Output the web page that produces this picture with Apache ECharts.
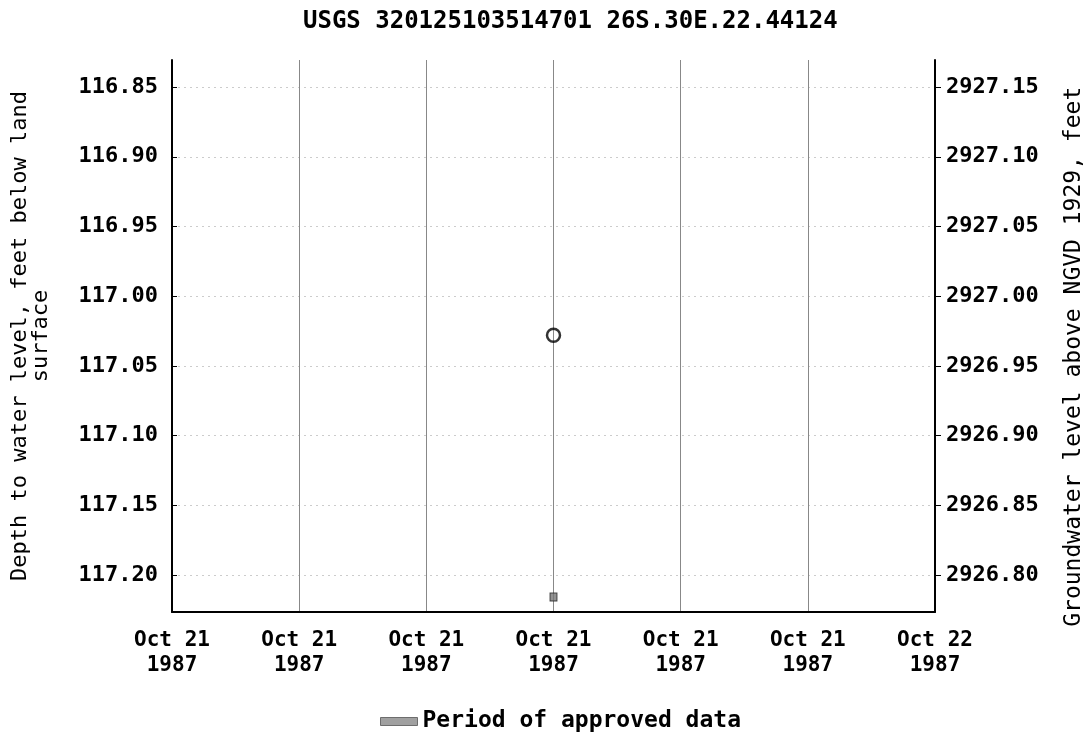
<!DOCTYPE html>
<html><head><meta charset="utf-8">
<script src="https://cdn.jsdelivr.net/npm/echarts@6/dist/echarts.min.js"></script>
<style>html,body{margin:0;padding:0;background:#fff}#c{width:1084px;height:741px}</style>
</head><body><div id="c"></div>
<script>
// Data (x = hours since Oct 21 1987 00:00)
const title = 'USGS 320125103514701 26S.30E.22.44124';
const xTickHours = [0, 4, 8, 12, 16, 20, 24];
const xTickLabels = ['Oct 21\n1987','Oct 21\n1987','Oct 21\n1987','Oct 21\n1987','Oct 21\n1987','Oct 21\n1987','Oct 22\n1987'];
const leftTicks = [116.85, 116.90, 116.95, 117.00, 117.05, 117.10, 117.15, 117.20];
const rightTicks = [2927.15, 2927.10, 2927.05, 2927.00, 2926.95, 2926.90, 2926.85, 2926.80];
const obsHours = [12];
const obsDepth = [117.028];
const approvedHours = [12];
const approvedDepth = [117.2158];
const datum = 3044.0;
const leftMin = 116.8306, leftMax = 117.2265;

const font = 'DejaVu Sans Mono';
const lab = { fontFamily: font, fontSize: 22, fontWeight: 'bold', color: '#000' };
const rightAsDepth = rightTicks.map(r => +(datum - r).toFixed(4));
const chart = echarts.init(document.getElementById('c'));
chart.setOption({
  animation: false,
  title: { text: title, left: 298, top: 5, textStyle: Object.assign({}, lab, { fontSize: 24 }) },
  grid: { left: 172, right: 149, top: 60, bottom: 129, outerBoundsMode: 'none', containLabel: false },
  legend: { top: 705, left: 375, itemWidth: 37, itemHeight: 8, icon: 'rect', itemGap: 8,
    data: [{ name: 'Period of approved data', itemStyle: { color: '#888', borderColor: '#555', borderWidth: 1 } }],
    textStyle: Object.assign({}, lab, { fontSize: 23 }) },
  xAxis: { type: 'value', min: 0, max: 24, interval: 4,
    axisLine: { lineStyle: { color: '#000', width: 2 } },
    axisTick: { show: false },
    splitLine: { show: true, lineStyle: { color: '#888', width: 1 } },
    axisLabel: Object.assign({}, lab, { fontSize: 21, lineHeight: 25, margin: 16,
      formatter: v => { const i = xTickHours.indexOf(v); return i >= 0 ? xTickLabels[i] : ''; } }) },
  yAxis: [
    { type: 'value', inverse: true, min: leftMin, max: leftMax,
      name: 'Depth to water level, feet below land\nsurface', nameLocation: 'middle', nameGap: 120, nameRotate: 90,
      nameTextStyle: { fontFamily: font, fontSize: 22, color: '#000', lineHeight: 21 },
      axisLine: { show: true, lineStyle: { color: '#000', width: 2 } },
      axisTick: { show: true, inside: true, length: 5, customValues: leftTicks, lineStyle: { color: '#000' } },
      splitLine: { show: true, lineStyle: { color: '#ccc', type: [2, 4], width: 1 } },
      axisLabel: Object.assign({}, lab, { customValues: leftTicks, margin: 14, formatter: v => v.toFixed(2) }) },
    { type: 'value', inverse: true, min: leftMin, max: leftMax, position: 'right',
      name: 'Groundwater level above NGVD 1929, feet   ', nameLocation: 'middle', nameGap: 128, nameRotate: 90,
      nameTextStyle: { fontFamily: font, fontSize: 23, color: '#000' },
      axisLine: { show: true, lineStyle: { color: '#000', width: 2 } },
      axisTick: { show: true, length: 6, customValues: rightAsDepth, lineStyle: { color: '#000' } },
      splitLine: { show: false },
      axisLabel: Object.assign({}, lab, { customValues: rightAsDepth, margin: 11, formatter: v => (datum - v).toFixed(2) }) }
  ],
  series: [
    { name: 'Observed', type: 'scatter', yAxisIndex: 0, symbol: 'circle', symbolSize: 13,
      itemStyle: { color: 'rgba(255,255,255,0)', borderColor: '#000', borderWidth: 2.5 },
      data: obsHours.map((h, i) => [h, obsDepth[i]]) },
    { name: 'Period of approved data', type: 'scatter', yAxisIndex: 1, symbol: 'rect', symbolSize: [7, 8],
      itemStyle: { color: '#777', borderColor: '#222', borderWidth: 1 },
      data: approvedHours.map((h, i) => [h, approvedDepth[i]]) }
  ]
});
</script></body></html>
